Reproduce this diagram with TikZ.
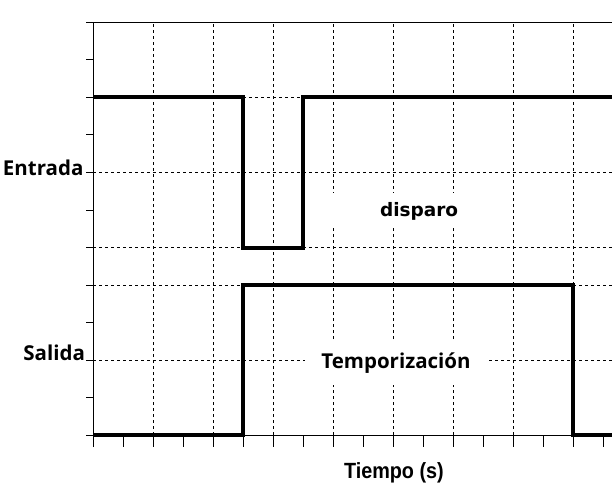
\documentclass[tikz,border=0pt]{standalone}
\usepackage{fontspec}
\newfontfamily\dejavu{DejaVu Sans}
\newfontfamily\opensans{Open Sans}
\newfontfamily\liber{Liberation Sans}
\begin{document}
\begin{tikzpicture}[x=30pt,y=37.5pt,
		rejilla/.style={line width=0.8pt, dash pattern=on 3pt off 3pt},
		eje/.style={line width=1pt},
		senal/.style={line width=4pt, line join=miter},
		etiq/.style={font=\opensans\bfseries\fontsize{20.5}{24}\selectfont},
		caja/.style={fill=white, text height=12pt, text depth=0pt}]
		\useasboundingbox (-3.1,-1.6267) rectangle (17.3,11.6);
		
		% Rejilla punteada
		\foreach \x in {2,4,...,16}
			\draw[rejilla] (\x,0) -- (\x,11);
		\foreach \y in {2,4,5,7,9}
			\draw[rejilla] (0,\y) -- (17.3,\y);
		
		% Ejes y marcas
		\draw[eje] (0,-0.32) -- (0,11);
		\draw[eje] (-0.233,11) -- (17.3,11);
		\draw[eje] (-0.233,0) -- (17.3,0);
		\foreach \y in {1,...,10}
			\draw[eje] (-0.233,\y) -- (0,\y);
		\foreach \x in {1,...,17}
			\draw[eje] (\x,0) -- (\x,-0.32);
		
		% Etiquetas
		\node[etiq, anchor=base east] (entrada) at (-0.2,6.907) {Entrada};
		\node[etiq, anchor=base east] (salida) at (-0.15,1.98) {Salida};
		\node[caja, font=\dejavu\bfseries\fontsize{18.5}{21}\selectfont, minimum width=180pt, minimum height=35pt] (disparo) at (10.87,6) {disparo};
		\node[caja, etiq, minimum width=183pt, minimum height=45pt] (temporizacion) at (10.1,1.93) {Temporización};
		\node[font=\liber\bfseries\fontsize{22}{26}\selectfont, anchor=base] (tiempo) at (10.03,-1.173) {\scalebox{0.9}[1]{Tiempo (s)}};
		
		% Señales de entrada y salida
		\draw[senal] (0,9) -- (5,9) -- (5,5) -- (7,5) -- (7,9) -- (17.3,9);
		\draw[senal] (0,0) -- (5,0) -- (5,4) -- (16,4) -- (16,0) -- (17.3,0);
	\end{tikzpicture}
\end{document}
